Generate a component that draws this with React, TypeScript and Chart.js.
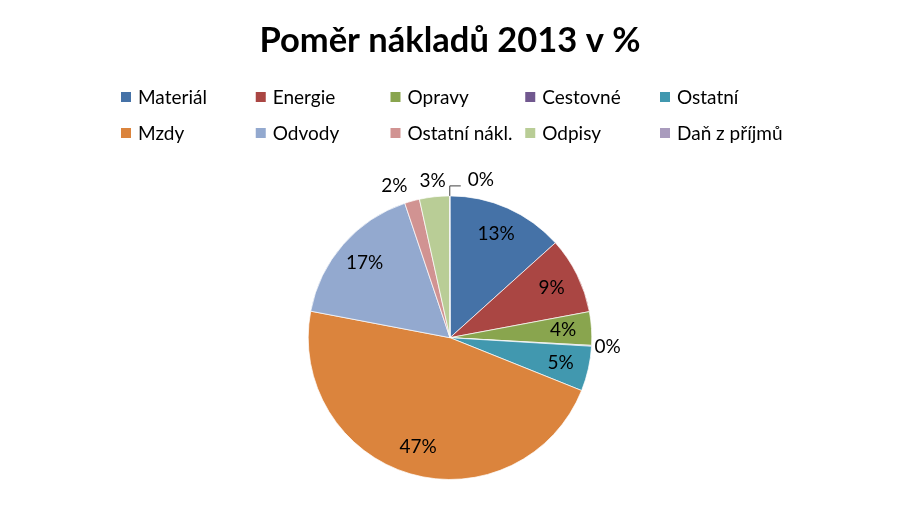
import React, { useEffect, useRef } from "react";
import { Chart, registerables } from "chart.js";

Chart.register(...registerables);

const chartTitle = "Poměr nákladů 2013 v %";
const categories = [
  "Materiál",
  "Energie",
  "Opravy",
  "Cestovné",
  "Ostatní",
  "Mzdy",
  "Odvody",
  "Ostatní nákl.",
  "Odpisy",
  "Daň z příjmů",
];
const values = [13.3, 8.7, 3.8, 0.1, 5.1, 46.8, 16.8, 1.7, 3.4, 0.05];
const colors = [
  "#4572A7",
  "#AA4643",
  "#89A54E",
  "#71588F",
  "#4198AF",
  "#DB843D",
  "#93A9CF",
  "#D19392",
  "#B9CD96",
  "#A99BBD",
];

const FONT = "Lato";

const gridLegendPlugin = {
  id: "gridLegend",
  afterDraw(chart: any) {
    const ctx = chart.ctx as CanvasRenderingContext2D;
    const labels = chart.data.labels as string[];
    const cols = 5;
    const colW = 134.75;
    const x0 = 121;
    const y0 = 97;
    const rowH = 36;
    ctx.save();
    ctx.font = `19px ${FONT}`;
    ctx.textBaseline = "middle";
    ctx.textAlign = "left";
    labels.forEach((label, i) => {
      const c = i % cols;
      const r = Math.floor(i / cols);
      const x = x0 + c * colW;
      const y = y0 + r * rowH;
      ctx.fillStyle = colors[i];
      ctx.fillRect(x, y - 5, 10, 10);
      ctx.fillStyle = "#000";
      ctx.fillText(label, x + 17, y + 1);
    });
    ctx.restore();
  },
};

type Lbl = {
  text: string;
  x: number;
  y: number;
  w: number;
  h: number;
  leader?: number[];
};

const pieLabelsPlugin = {
  id: "pieLabels",
  afterDatasetsDraw(chart: any) {
    const ctx = chart.ctx as CanvasRenderingContext2D;
    const meta = chart.getDatasetMeta(0);
    const data = chart.data.datasets[0].data as number[];
    const total = data.reduce((a, b) => a + b, 0);
    ctx.save();
    ctx.font = `19px ${FONT}`;
    ctx.textBaseline = "middle";
    ctx.textAlign = "center";
    ctx.fillStyle = "#000";
    const inside: Lbl[] = [];
    const outside: Lbl[] = [];
    const gap = 12;
    meta.data.forEach((arc: any, i: number) => {
      const p = arc.getProps(["x", "y", "startAngle", "endAngle", "outerRadius"], true);
      const mid = (p.startAngle + p.endAngle) / 2;
      const pct = (data[i] / total) * 100;
      const text = Math.round(pct) + "%";
      const w = ctx.measureText(text).width;
      const h = 16;
      if (pct >= 3.5) {
        const r = p.outerRadius * 0.8;
        inside.push({ text, x: p.x + Math.cos(mid) * r, y: p.y + Math.sin(mid) * r, w, h });
        return;
      }
      const r = p.outerRadius + 16;
      const lbl: Lbl = {
        text,
        x: p.x + Math.cos(mid) * r,
        y: p.y + Math.sin(mid) * r,
        w,
        h,
      };
      const prev = outside[outside.length - 1];
      if (prev && Math.abs(prev.y - lbl.y) < h) {
        const prevR = prev.x + prev.w / 2;
        const curL = lbl.x - lbl.w / 2;
        const need = prevR + gap - curL;
        if (need > 0 && need < lbl.w * 0.6) {
          prev.x -= need;
        } else if (need > 0) {
          lbl.x = prevR + 22 + w / 2;
          const ex = p.x + Math.cos(mid) * p.outerRadius;
          const ey = p.y + Math.sin(mid) * p.outerRadius;
          lbl.leader = [ex, ey, ex, lbl.y + 6, lbl.x - w / 2 - 7, lbl.y + 6];
        }
      }
      outside.push(lbl);
    });
    [...inside, ...outside].forEach((l) => {
      if (l.leader) {
        const [a, b, c, d, e, f] = l.leader;
        ctx.save();
        ctx.strokeStyle = "#404040";
        ctx.lineWidth = 1;
        ctx.beginPath();
        ctx.moveTo(a, b);
        ctx.lineTo(c, d);
        ctx.lineTo(e, f);
        ctx.stroke();
        ctx.restore();
      }
      ctx.fillText(l.text, l.x, l.y);
    });
    ctx.restore();
  },
};

export default function App() {
  const canvasRef = useRef<HTMLCanvasElement | null>(null);

  useEffect(() => {
    document.body.style.margin = "0";
    const canvas = canvasRef.current;
    if (!canvas) return;
    const chart = new Chart(canvas, {
      type: "pie",
      data: {
        labels: categories,
        datasets: [
          {
            data: values,
            backgroundColor: colors,
            borderColor: "rgba(255,255,255,0.7)",
            borderWidth: 1,
          },
        ],
      },
      options: {
        responsive: false,
        animation: false,
        devicePixelRatio: 1,
        layout: { padding: { top: 0, bottom: 45, left: 0, right: 0 } },
        plugins: {
          legend: { display: false },
          tooltip: { enabled: false },
          title: {
            display: true,
            text: chartTitle,
            color: "#000",
            font: { family: FONT, size: 34.5, weight: "bold" },
            padding: { top: 20, bottom: 134 },
          },
        },
      },
      plugins: [gridLegendPlugin, pieLabelsPlugin],
    });
    return () => chart.destroy();
  }, []);

  return (
    <div style={{ width: 900, height: 525, background: "#fff" }}>
      <canvas ref={canvasRef} width={900} height={525} />
    </div>
  );
}
